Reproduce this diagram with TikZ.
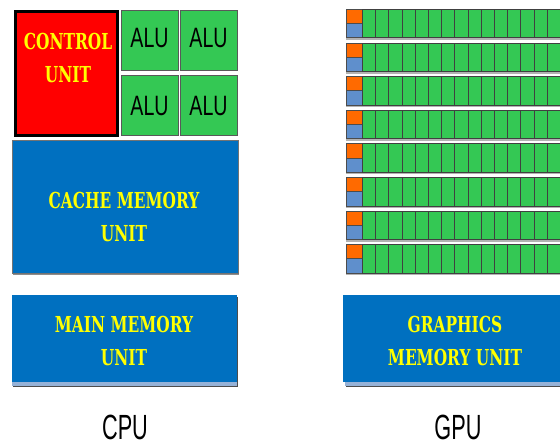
\documentclass[tikz,border=0pt]{standalone}
\usepackage{fontspec}
\newfontfamily\lblfont[FakeStretch=0.70]{DejaVu Serif Bold}
\newfontfamily\alufont[FakeStretch=0.70]{Liberation Sans}
\newfontfamily\cpufont[FakeStretch=0.62]{Liberation Sans}
\definecolor{cured}{RGB}{255,0,0}
\definecolor{alugreen}{RGB}{52,200,84}
\definecolor{memblue}{RGB}{0,112,192}
\definecolor{txtyellow}{RGB}{255,255,0}
\definecolor{cacheor}{RGB}{255,106,0}
\definecolor{ctrlblue}{RGB}{95,143,204}
\definecolor{shadowblue}{RGB}{150,178,215}
\tikzset{
  box/.style={inner sep=0pt, anchor=north west},
  cubox/.style={box, fill=cured, draw=black, line width=3pt},
  alubox/.style={box, fill=alugreen, draw=black!65, line width=0.9pt},
  membox/.style={box, fill=memblue, draw=black!55, line width=0.6pt},
  memtxt/.style={text=txtyellow, font=\lblfont\fontsize{22}{33}\selectfont, align=center, inner sep=0pt},
  alutxt/.style={font=\alufont\fontsize{28}{30}\selectfont, anchor=base, inner sep=0pt},
  cputxt/.style={font=\cpufont\fontsize{35}{36}\selectfont, anchor=base, inner sep=0pt},
  cell/.style={box, fill=alugreen, draw=black!75, line width=0.8pt, minimum width=13.2pt, minimum height=28.5pt},
  orcell/.style={box, fill=cacheor, draw=black!70, line width=0.7pt, minimum width=16pt, minimum height=14.25pt},
  blcell/.style={box, fill=ctrlblue, draw=black!70, line width=0.7pt, minimum width=16pt, minimum height=14.25pt},
}
\begin{document}
\begin{tikzpicture}[x=1pt,y=-1pt]
\useasboundingbox (0,0) rectangle (560,444);
\fill[white] (0,0) rectangle (560,444);
% ---------------- CPU ----------------
\node[cubox, minimum width=102pt, minimum height=123pt] (cu) at (13.5,10.5) {};
\node[memtxt] (cutxt) at (68,58) {CONTROL\\UNIT};
\node[alubox, minimum width=57pt, minimum height=60pt] (alu1) at (121,10) {};
\node[alubox, minimum width=57pt, minimum height=60pt] (alu2) at (180,10) {};
\node[alubox, minimum width=57pt, minimum height=60pt] (alu3) at (121,75) {};
\node[alubox, minimum width=57pt, minimum height=60pt] (alu4) at (180,75) {};
\node[alutxt] (alut1) at (149.5,48) {ALU};
\node[alutxt] (alut2) at (208.5,48) {ALU};
\node[alutxt] (alut3) at (149.5,115) {ALU};
\node[alutxt] (alut4) at (208.5,115) {ALU};
% cache memory
\fill[black!45] (13,142) rectangle (239,275);
\node[membox, minimum width=226pt, minimum height=133pt] (cache) at (12,140) {};
\node[memtxt] (cachetxt) at (124,217) {CACHE MEMORY\\UNIT};
% main memory
\fill[black!70] (13,297) rectangle (238,387);
\fill[shadowblue] (12,295) rectangle (237,386);
\node[membox, draw=none, minimum width=225pt, minimum height=87pt] (mainmem) at (12,295) {};
\node[memtxt] (maintxt) at (124,341) {MAIN MEMORY\\UNIT};
\node[cputxt] (cpu) at (125,439) {CPU};
% ---------------- GPU ----------------
\foreach \i in {0,...,7}{
  \pgfmathsetmacro{\t}{9+33.6*\i}
  \fill[black!30] (346,\t+2) rectangle (562,\t+31);
  \node[orcell] (or\i) at (346,\t) {};
  \node[blcell] (bl\i) at (346,\t+14.25) {};
  \foreach \j in {0,...,14}{
    \node[cell] (c\i-\j) at (362+13.2*\j,\t) {};
  }
}
% graphics memory
\fill[black!70] (346,297) rectangle (562,387);
\fill[shadowblue] (345,295) rectangle (562,386);
\node[membox, draw=none, minimum width=220pt, minimum height=87pt] (gmem) at (343,295) {};
\node[memtxt] (gmemtxt) at (455,341) {GRAPHICS\\MEMORY UNIT};
\node[cputxt] (gpu) at (458,439) {GPU};
\end{tikzpicture}
\end{document}
